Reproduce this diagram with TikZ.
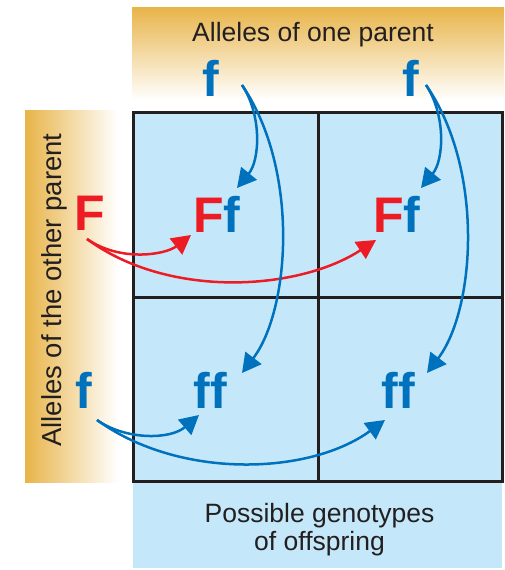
\documentclass[tikz,border=0pt]{standalone}
\usepackage{fontspec}
\setmainfont{Liberation Sans}
\usetikzlibrary{arrows.meta}
\definecolor{gold}{HTML}{E8B449}
\definecolor{cellblue}{HTML}{C4E8F9}
\definecolor{ink}{HTML}{231F20}
\definecolor{alred}{HTML}{ED1C24}
\definecolor{alblue}{HTML}{0071BC}
\tikzset{
  allele/.style={inner sep=0pt, anchor=base, font=\fontsize{50}{50}\selectfont\bfseries},
  label/.style={inner sep=0pt, anchor=base, text=ink, font=\fontsize{26.5}{26}\selectfont},
  gridline/.style={draw=ink, line width=3pt},
  redarrow/.style={draw=alred, line width=2.5pt, -{Triangle[length=19pt,width=20pt]}},
  bluearrow/.style={draw=alblue, line width=2.5pt, -{Triangle[length=19pt,width=20pt]}}
}
\begin{document}
\begin{tikzpicture}[x=1pt,y=-1pt]
\useasboundingbox (0,0) rectangle (504,570);
% headers
\shade[top color=gold, bottom color=white, middle color=gold!50] (132,7) rectangle (504,100);
\shade[left color=gold, right color=white, middle color=gold!50] (25,110) rectangle (118,482);
% grid and bottom panel
\fill[cellblue] (133,112) rectangle (502,568);
\draw[gridline] (133,112) rectangle (502,481);
\draw[gridline] (318,112) -- (318,481);
\draw[gridline] (133,297) -- (502,297);
% labels
\node[label] (top) at (313,41) {Alleles of one parent};
\node[label, font=\fontsize{27.5}{26}\selectfont, rotate=90] (side) at (61,290) {Alleles of the other parent};
\node[label] (bot1) at (319.5,522) {Possible genotypes};
\node[label] (bot2) at (319.5,550) {of offspring};
% parent alleles
\node[allele, text=alblue] (p1) at (210.5,96) {f};
\node[allele, text=alblue] (p2) at (410.5,96) {f};
\node[allele, text=alred] (m1) at (90,230) {F};
\node[allele, text=alblue] (m2) at (83.5,408) {f};
% offspring
\node[allele] (c11) at (217,232) {\textcolor{alred}{F}\textcolor{alblue}{f}};
\node[allele] (c12) at (397,232) {\textcolor{alred}{F}\textcolor{alblue}{f}};
\node[allele, text=alblue] (c21) at (210.5,408) {ff};
\node[allele, text=alblue] (c22) at (398,408) {ff};
% arrow ends
\coordinate (sm1) at (87,239);
\coordinate (sm2) at (97,420);
\coordinate (sp1) at (242,85);
\coordinate (sp2) at (426,85);
\coordinate (t11r) at (191,235);
\coordinate (t12r) at (376,240);
\coordinate (t11b) at (237,188);
\coordinate (t12b) at (421,188);
\coordinate (t21a) at (242,373);
\coordinate (t22a) at (427,373);
\coordinate (t21b) at (199,415);
\coordinate (t22b) at (385,420);
% red arrows
\draw[redarrow] (sm1) .. controls (120,262) and (165,255) .. (t11r);
\draw[redarrow] (sm1) .. controls (170,300) and (300,290) .. (t12r);
% blue arrows from top
\draw[bluearrow] (sp1) .. controls (262,115) and (260,160) .. (t11b);
\draw[bluearrow] (sp1) .. controls (300,170) and (290,310) .. (t21a);
\draw[bluearrow] (sp2) .. controls (446,115) and (444,160) .. (t12b);
\draw[bluearrow] (sp2) .. controls (485,170) and (475,310) .. (t22a);
% blue arrows from side
\draw[bluearrow] (sm2) .. controls (125,440) and (170,440) .. (t21b);
\draw[bluearrow] (sm2) .. controls (180,480) and (310,475) .. (t22b);
\end{tikzpicture}
\end{document}
